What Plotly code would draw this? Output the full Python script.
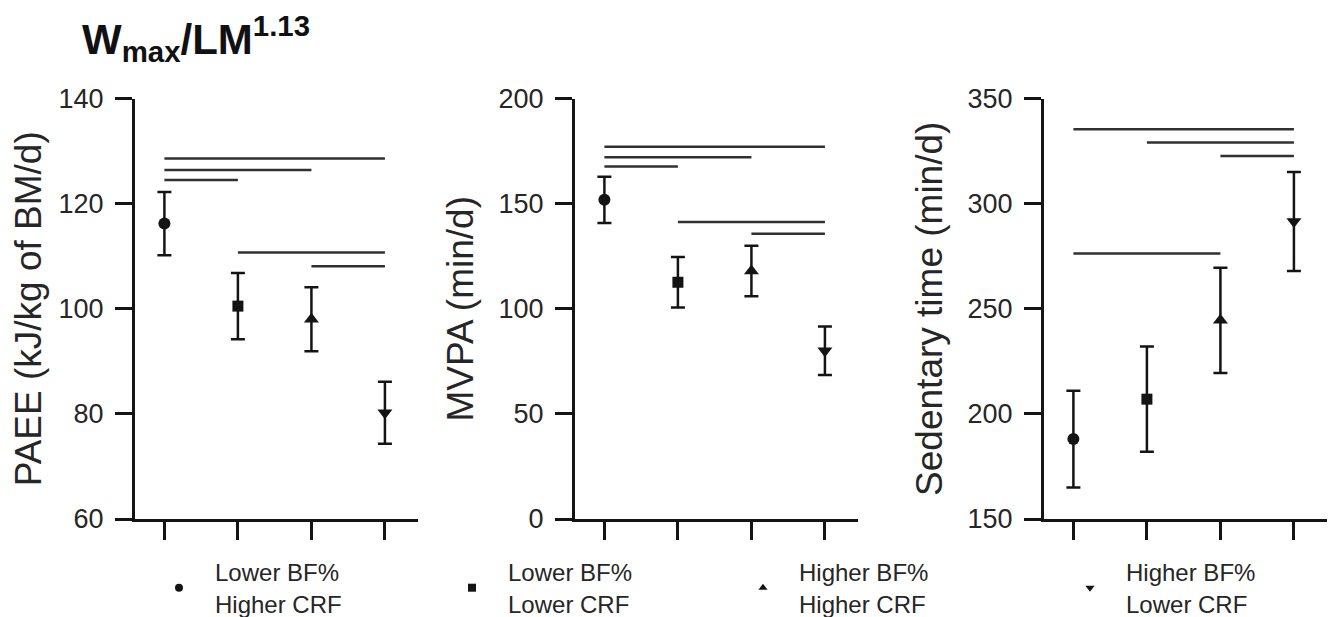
import plotly.graph_objects as go

# ---------------- data ----------------
group_names = ["Lower BF%<br>Higher CRF", "Lower BF%<br>Lower CRF",
               "Higher BF%<br>Higher CRF", "Higher BF%<br>Lower CRF"]
group_symbols = ["circle", "square", "triangle-up", "triangle-down"]
group_pos = [1, 2, 3, 4]

paee_mean = [116.2, 100.5, 98.0, 80.2]
paee_err = [6.0, 6.3, 6.1, 5.9]
mvpa_mean = [151.8, 112.6, 118.0, 80.0]
mvpa_err = [11.0, 12.0, 12.0, 11.5]
sed_mean = [188.0, 207.0, 244.5, 291.5]
sed_err = [23.0, 25.0, 25.0, 23.6]

# significance bars: (from group, to group, y level)
paee_sig = [(1, 4, 128.6), (1, 3, 126.4), (1, 2, 124.5), (2, 4, 110.7), (3, 4, 108.1)]
mvpa_sig = [(1, 4, 177.1), (1, 3, 172.0), (1, 2, 167.6), (2, 4, 141.3), (3, 4, 135.7)]
sed_sig = [(1, 4, 335.4), (2, 4, 329.1), (3, 4, 322.6), (1, 3, 276.3)]

paee_ticks = [60, 80, 100, 120, 140]
mvpa_ticks = [0, 50, 100, 150, 200]
sed_ticks = [150, 200, 250, 300, 350]

panel_titles = ["PAEE (kJ/kg of BM/d)", "MVPA (min/d)", "Sedentary time (min/d)"]
figure_title = "<b>W<sub>max</sub>/LM<sup>1.13</sup></b>"

# ---------------- figure ----------------
OFF = 8                      # default page body margin
W, H = 1337 - OFF, 617 - OFF
FONT = "Liberation Sans, Arial, sans-serif"
INK = "#141414"
TXT = "#262626"

fig = go.Figure()

panels = [
    (paee_mean, paee_err, paee_sig, paee_ticks, "x", "y"),
    (mvpa_mean, mvpa_err, mvpa_sig, mvpa_ticks, "x2", "y2"),
    (sed_mean, sed_err, sed_sig, sed_ticks, "x3", "y3"),
]
marker_sizes = {"circle": 12, "square": 11, "triangle-up": 13, "triangle-down": 13}

for mean, err, sig, ticks, xa, ya in panels:
    for i in range(len(group_pos)):
        fig.add_trace(go.Scatter(
            x=[group_pos[i]], y=[mean[i]], xaxis=xa, yaxis=ya,
            mode="markers",
            marker=dict(symbol=group_symbols[i], size=marker_sizes[group_symbols[i]], color=INK),
            error_y=dict(type="data", array=[err[i]], visible=True,
                         thickness=2.5, width=7, color=INK),
            showlegend=False, hoverinfo="skip"))
    sx, sy = [], []
    for a, b, lvl in sig:
        sx += [a, b, None]
        sy += [lvl, lvl, None]
    fig.add_trace(go.Scatter(x=sx, y=sy, xaxis=xa, yaxis=ya, mode="lines",
                             line=dict(color="#303030", width=2.5),
                             showlegend=False, hoverinfo="skip"))

# legend-only entries, each in its own legend box
legend_ids = ["legend", "legend2", "legend3", "legend4"]
legend_x_px = [143, 436, 727, 1054]
for i in range(len(group_names)):
    fig.add_trace(go.Scatter(
        x=[None], y=[None], mode="markers", name=group_names[i],
        marker=dict(symbol=group_symbols[i], size=8, color=INK),
        legend=legend_ids[i], showlegend=True))

def px_x(v):
    return (v - OFF) / W

def px_y(v):
    return 1 - (v - OFF) / H

y_dom = [px_y(519), px_y(98.5)]
x_ranges = [0.6, 4.45]
x_doms = [[px_x(135), px_x(418)], [px_x(575), px_x(858)], [px_x(1044), px_x(1327)]]
y_ranges = [[60, 140], [0, 200], [150, 350]]
y_tick_lists = [paee_ticks, mvpa_ticks, sed_ticks]

axis_common = dict(showline=True, linewidth=3, linecolor=INK, ticks="outside",
                   tickwidth=3, tickcolor=INK, showgrid=False, zeroline=False)

layout = dict(
    width=W, height=H,
    margin=dict(l=0, r=0, t=0, b=0, autoexpand=False),
    paper_bgcolor="white", plot_bgcolor="white",
    font=dict(family=FONT, color=TXT),
    showlegend=True,
)
for k in range(3):
    sfx = "" if k == 0 else str(k + 1)
    layout["xaxis" + sfx] = dict(
        domain=x_doms[k], range=x_ranges, tickvals=group_pos, showticklabels=False,
        ticklen=18, anchor="y" + sfx, fixedrange=True, **axis_common)
    layout["yaxis" + sfx] = dict(
        domain=y_dom, range=y_ranges[k], tickvals=y_tick_lists[k], ticklen=17,
        tickfont=dict(size=27, color=TXT), ticklabelstandoff=6,
        title=dict(text=panel_titles[k], font=dict(size=37, color=TXT), standoff=14),
        anchor="x" + sfx, fixedrange=True, **axis_common)

for i, lid in enumerate(legend_ids):
    layout[lid] = dict(
        x=px_x(legend_x_px[i]), xanchor="left", y=px_y(588), yanchor="middle",
        orientation="v", itemwidth=62, bgcolor="rgba(0,0,0,0)", borderwidth=0,
        font=dict(size=24, color=TXT, family=FONT), itemclick=False, itemdoubleclick=False)

layout["annotations"] = [dict(
    text=figure_title, xref="paper", yref="paper", x=px_x(80), y=px_y(38),
    xanchor="left", yanchor="middle", showarrow=False,
    font=dict(size=42, color="#111111", family=FONT))]

fig.update_layout(**layout)
fig.write_html("out.html")
